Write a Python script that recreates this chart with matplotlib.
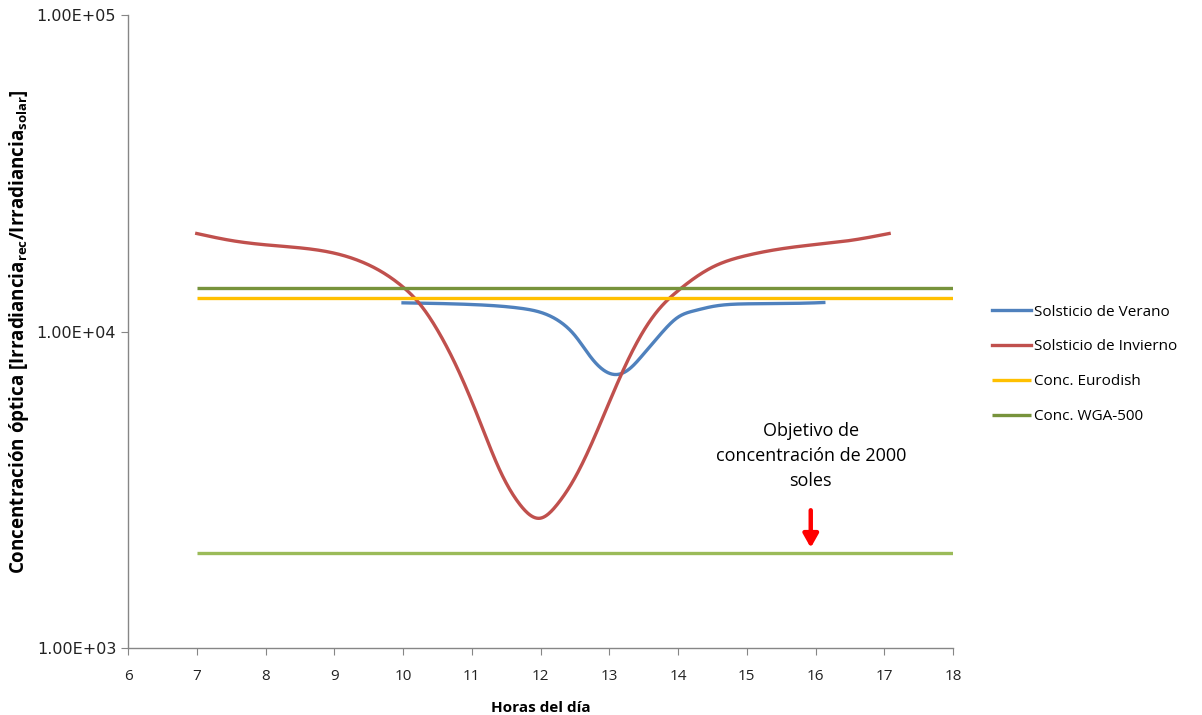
import matplotlib
matplotlib.use("Agg")
import matplotlib.pyplot as plt
import numpy as np
from matplotlib.ticker import FixedLocator, FuncFormatter, NullLocator

plt.rcParams['font.family'] = ['Open Sans', 'DejaVu Sans']
plt.rcParams['mathtext.default'] = 'regular'

# Data
hours_winter = [7, 7.5, 8, 8.5, 9.08, 9.37, 9.67, 9.96, 10.25, 10.54, 10.83, 11.12, 11.41,
                11.7, 11.99, 12.25, 12.5, 12.75, 13, 13.25, 13.5, 13.75, 14, 14.5, 15,
                15.5, 16, 16.5, 17.07]
winter = [20400, 19390, 18790, 18380, 17510, 16700, 15530, 14050, 12170, 9765, 7328, 5179,
          3636, 2840, 2570, 2855, 3451, 4461, 5981, 7943, 10058, 11955, 13454, 15970, 17390,
          18250, 18830, 19390, 20400]

hours_summer = [10.0, 11.0, 11.7, 12.0, 12.28, 12.5, 12.75, 13.1, 13.3, 13.5, 13.75, 14.0,
                14.25, 14.5, 15, 16, 16.12]
summer = [12320, 12170, 11850, 11500, 10750, 9713, 8199, 7312, 7640, 8500, 9834, 11100,
          11650, 11995, 12230, 12320, 12350]

ref_hours = [7, 18]
eurodish = 12800
wga500 = 13700
target = 2000
target_hour = 15.93

x_ticks = list(range(6, 19))
y_ticks = [1e3, 1e4, 1e5]


def smooth(x, y, n=800):
    # natural cubic spline through the points, in (x, log y)
    x = np.asarray(x, float)
    y = np.log10(np.asarray(y, float))
    m = len(x)
    h = np.diff(x)
    A = np.zeros((m, m))
    b = np.zeros(m)
    A[0, 0] = A[-1, -1] = 1
    for i in range(1, m - 1):
        A[i, i - 1] = h[i - 1]
        A[i, i] = 2 * (h[i - 1] + h[i])
        A[i, i + 1] = h[i]
        b[i] = 6 * ((y[i + 1] - y[i]) / h[i] - (y[i] - y[i - 1]) / h[i - 1])
    M = np.linalg.solve(A, b)
    xs = np.linspace(x[0], x[-1], n)
    k = np.clip(np.searchsorted(x, xs) - 1, 0, m - 2)
    t1 = x[k + 1] - xs
    t0 = xs - x[k]
    hk = h[k]
    ys = (M[k] * t1 ** 3 + M[k + 1] * t0 ** 3) / (6 * hk) \
        + (y[k] / hk - M[k] * hk / 6) * t1 + (y[k + 1] / hk - M[k + 1] * hk / 6) * t0
    return xs, 10 ** ys


fig = plt.figure(figsize=(12.02, 7.15), dpi=100)
ax = fig.add_axes([0.1065, 0.0937, 0.6864, 0.8853])

sx, sy = smooth(hours_summer, summer)
wx, wy = smooth(hours_winter, winter)

ax.plot(ref_hours, [target, target], color='#9BBB59', lw=2.4, solid_capstyle='butt')
ax.plot(sx, sy, color='#4F81BD', lw=2.4, label='Solsticio de Verano')
ax.plot(wx, wy, color='#C0504D', lw=2.4, label='Solsticio de Invierno')
ax.plot(ref_hours, [eurodish, eurodish], color='#FFC000', lw=2.4, label='Conc. Eurodish', solid_capstyle='butt')
ax.plot(ref_hours, [wga500, wga500], color='#77933C', lw=2.4, label='Conc. WGA-500', solid_capstyle='butt')

ax.set_yscale('log')
ax.set_xlim(6, 18)
ax.set_ylim(1e3, 1e5)
ax.xaxis.set_major_locator(FixedLocator(x_ticks))
ax.yaxis.set_major_locator(FixedLocator(y_ticks))
ax.yaxis.set_minor_locator(NullLocator())
ax.yaxis.set_major_formatter(FuncFormatter(lambda v, p: f"{v:.2E}"))

for s in ['top', 'right']:
    ax.spines[s].set_visible(False)
for s in ['left', 'bottom']:
    ax.spines[s].set_color('#868686')
    ax.spines[s].set_linewidth(1.0)
ax.tick_params(axis='both', which='major', direction='out', length=5, color='#868686',
               labelsize=11, labelcolor='#222222')
ax.tick_params(axis='x', pad=10)
for lab in ax.get_yticklabels():
    lab.set_fontfamily('DejaVu Sans')
    lab.set_fontsize(11.5)

ax.set_xlabel('Horas del día', fontsize=11, fontweight='bold', labelpad=12)
ax.set_ylabel('Concentración óptica [Irradiancia$_{rec}$/Irradiancia$_{solar}$]',
              fontsize=13.5, fontweight='bold')
ax.yaxis.set_label_coords(-0.117, 0.5)

ax.text(target_hour, 4055, 'Objetivo de\nconcentración de 2000\nsoles', ha='center', va='center',
        fontsize=13, linespacing=1.5)
ax.annotate('', xy=(target_hour, 2032), xytext=(target_hour, 2780),
            arrowprops=dict(arrowstyle='-|>,head_width=0.45,head_length=0.8', color='#FF0000', lw=3.2))

ax.legend(loc='center left', bbox_to_anchor=(1.03, 0.448), frameon=False, fontsize=11,
          handlelength=2.6, handletextpad=0.2, labelspacing=1.3)

fig.savefig('out.png', dpi=100)
